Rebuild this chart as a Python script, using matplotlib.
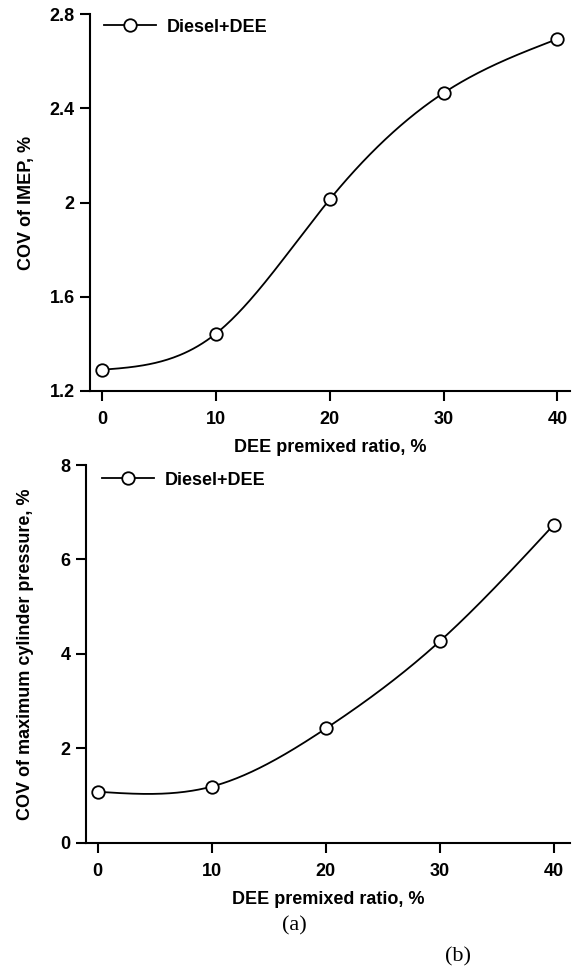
import numpy as np
import matplotlib
matplotlib.use('Agg')
import matplotlib.pyplot as plt
from matplotlib.ticker import FuncFormatter

plt.rcParams['font.family'] = ['Liberation Sans', 'DejaVu Sans']
plt.rcParams['font.weight'] = 'bold'
plt.rcParams['font.size'] = 13

# data
dee_ratio = [0, 10, 20, 30, 40]
cov_imep = [1.29, 1.443, 2.013, 2.465, 2.694]
cov_pmax = [1.08, 1.19, 2.42, 4.27, 6.74]
series_name = 'Diesel+DEE'
x_label = 'DEE premixed ratio, %'
y_label_top = 'COV of IMEP, %'
y_label_bot = 'COV of maximum cylinder pressure, %'
x_ticks = [0, 10, 20, 30, 40]
y_ticks_top = [1.2, 1.6, 2.0, 2.4, 2.8]
y_ticks_bot = [0, 2, 4, 6, 8]


def natural_spline(x, y, n=300):
    # plain natural cubic spline, like the smooth line option in the original plot program
    x = np.asarray(x, float)
    y = np.asarray(y, float)
    k = len(x)
    h = np.diff(x)
    A = np.zeros((k, k))
    r = np.zeros(k)
    A[0, 0] = 1
    A[-1, -1] = 1
    for i in range(1, k - 1):
        A[i, i - 1] = h[i - 1]
        A[i, i] = 2 * (h[i - 1] + h[i])
        A[i, i + 1] = h[i]
        r[i] = 6 * ((y[i + 1] - y[i]) / h[i] - (y[i] - y[i - 1]) / h[i - 1])
    M = np.linalg.solve(A, r)
    xs = np.linspace(x[0], x[-1], n)
    idx = np.clip(np.searchsorted(x, xs) - 1, 0, k - 2)
    x0, x1 = x[idx], x[idx + 1]
    hh = x1 - x0
    ys = (M[idx] * (x1 - xs) ** 3 / (6 * hh) + M[idx + 1] * (xs - x0) ** 3 / (6 * hh)
          + (y[idx] / hh - M[idx] * hh / 6) * (x1 - xs)
          + (y[idx + 1] / hh - M[idx + 1] * hh / 6) * (xs - x0))
    return xs, ys


def style_axes(ax, yticks, xlim, label_x):
    for s in ['top', 'right']:
        ax.spines[s].set_visible(False)
    for s in ['left', 'bottom']:
        ax.spines[s].set_linewidth(1.5)
    ax.set_xticks(x_ticks)
    ax.set_yticks(yticks)
    ax.set_xlim(xlim)
    ax.set_ylim(yticks[0], yticks[-1])
    ax.yaxis.set_major_formatter(FuncFormatter(lambda v, p: '%g' % v))
    ax.tick_params(axis='x', direction='out', length=7.5, width=1.5, pad=7, labelsize=13)
    ax.tick_params(axis='y', direction='out', length=7, width=1.5, pad=4, labelsize=13)
    ax.set_xlabel(x_label, fontsize=13, fontweight='bold', labelpad=8)
    ax.yaxis.set_label_coords(label_x, 0.5)


def draw(ax, y, legend_pos):
    xs, ys = natural_spline(dee_ratio, y)
    ax.plot(xs, ys, color='black', lw=1.3, zorder=2)
    ax.plot(dee_ratio, y, ls='none', marker='o', ms=9, mfc='white', mec='black',
            mew=1.3, zorder=3, clip_on=False)
    h = ax.plot([], [], color='black', lw=1.3, marker='o', ms=9, mfc='white',
                mec='black', mew=1.3)[0]
    ax.legend([h], [series_name], loc='center left', bbox_to_anchor=legend_pos,
              frameon=False, borderpad=0, borderaxespad=0, handlelength=2.9,
              handletextpad=0.6, prop={'weight': 'bold', 'size': 13})


fig = plt.figure(figsize=(5.72, 9.68), dpi=100)

ax1 = fig.add_axes([0.1573, 0.5961, 0.8392, 0.3894])
draw(ax1, cov_imep, (0.029, 0.965))
ax1.set_ylabel(y_label_top, fontsize=13, fontweight='bold', va='center')
style_axes(ax1, y_ticks_top, (-1.05, 41.1), -0.133)

ax2 = fig.add_axes([0.1503, 0.1294, 0.8462, 0.3902])
draw(ax2, cov_pmax, (0.033, 0.96))
ax2.set_ylabel(y_label_bot, fontsize=13, fontweight='bold', va='center')
style_axes(ax2, y_ticks_bot, (-1.03, 41.4), -0.124)

fig.text(294 / 572, 1 - 926 / 968, '(a)', family='Liberation Serif', fontweight='normal',
         fontsize=16, ha='center', va='center')
fig.text(458 / 572, 1 - 957 / 968, '(b)', family='Liberation Serif', fontweight='normal',
         fontsize=16, ha='center', va='center')

fig.savefig('out.png', dpi=100)
